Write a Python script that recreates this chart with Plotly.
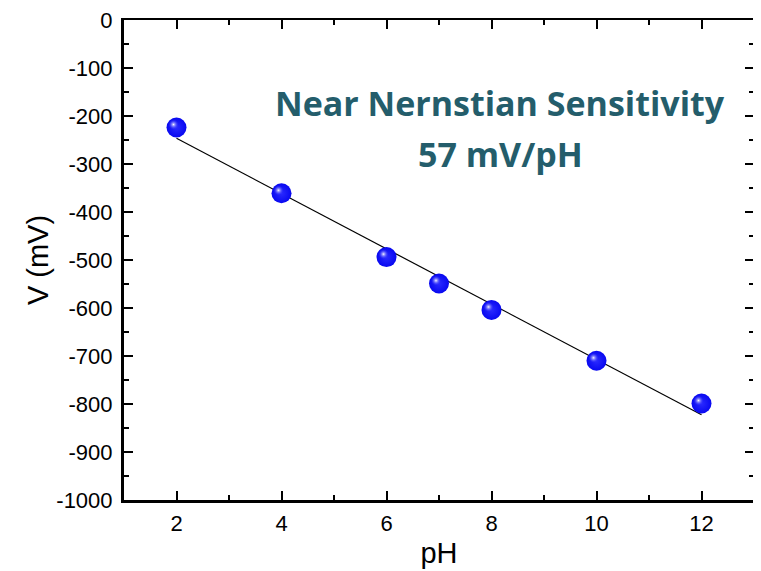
import numpy as np
import plotly.graph_objects as go

# data
ph = [2, 4, 6, 7, 8, 10, 12]
voltage = [-224, -361, -494, -549, -604, -710, -799]
x_ticks = [2, 4, 6, 8, 10, 12]
y_ticks = list(range(0, -1001, -100))
y_ticklabels = [str(v) for v in y_ticks]
annotation_lines = ["Near Nernstian Sensitivity", "57 mV/pH"]

slope, intercept = np.polyfit(ph, voltage, 1)
fit_x = [ph[0], ph[-1]]
fit_y = [slope * xv + intercept for xv in fit_x]

XR = [1, 13]
YR = [-1000, 0]
# page body has an 8 px margin; the figure is sized so it fits the 761x571 window
W, H = 753, 563
L, R, T, B = 116, 7, 12, 71
PW, PH = W - L - R, H - T - B
px_x = (XR[1] - XR[0]) / PW
px_y = (YR[1] - YR[0]) / PH

fig = go.Figure()
fig.add_trace(go.Scatter(x=fit_x, y=fit_y, mode="lines",
                         line=dict(color="black", width=1.2),
                         hoverinfo="skip", showlegend=False))
fig.add_trace(go.Scatter(x=ph, y=voltage, mode="markers",
                         marker=dict(size=20, color="#0808f0",
                                     line=dict(width=0),
                                     gradient=dict(type="radial", color="#2a2aff")),
                         showlegend=False))
fig.add_trace(go.Scatter(x=ph, y=voltage, mode="markers", xaxis="x2", yaxis="y2",
                         marker=dict(size=10, color="rgba(60,60,255,0)",
                                     line=dict(width=0),
                                     gradient=dict(type="radial", color="#f4f4ff")),
                         hoverinfo="skip", showlegend=False))
fig.add_trace(go.Scatter(x=ph, y=voltage, mode="markers", xaxis="x3", yaxis="y3",
                         marker=dict(size=1, opacity=0),
                         hoverinfo="skip", showlegend=False))

font_main = "Liberation Sans, Arial, sans-serif"
tickfont = dict(family=font_main, size=22, color="black")

fig.update_layout(
    width=W, height=H,
    margin=dict(l=L, r=R, t=T, b=B, autoexpand=False),
    paper_bgcolor="white", plot_bgcolor="white",
    showlegend=False,
    xaxis=dict(range=XR, tickvals=x_ticks, ticks="inside", ticklen=9, tickwidth=2,
               tickcolor="black", showline=True, linewidth=3, linecolor="black",
               showgrid=False, zeroline=False, tickfont=tickfont, automargin=False,
               ticklabelstandoff=2, ticklabeloverflow="allow",
               minor=dict(dtick=1, ticks="inside", ticklen=5, tickwidth=2, tickcolor="black"),
               title=dict(text="pH", font=dict(family=font_main, size=29, color="black"),
                          standoff=8)),
    yaxis=dict(range=YR, tickvals=y_ticks, ticktext=y_ticklabels, ticks="inside",
               ticklen=9, tickwidth=2, tickcolor="black", showline=True, linewidth=3,
               linecolor="black", showgrid=False, zeroline=False, tickfont=tickfont,
               automargin=False, ticklabelstandoff=4, ticklabeloverflow="allow",
               minor=dict(dtick=50, ticks="inside", ticklen=5, tickwidth=2, tickcolor="black"),
               title=dict(text="V (mV)", font=dict(family=font_main, size=29, color="black"),
                          standoff=0)),
    xaxis2=dict(overlaying="x", range=[XR[0] + 3 * px_x, XR[1] + 3 * px_x], visible=False),
    yaxis2=dict(overlaying="y", range=[YR[0] - 3 * px_y, YR[1] - 3 * px_y], visible=False),
    xaxis3=dict(overlaying="x", side="top", range=XR, tickvals=x_ticks, ticks="inside",
                ticklen=9, tickwidth=2, tickcolor="black", showline=True, linewidth=2,
                linecolor="black", showgrid=False, zeroline=False, showticklabels=False,
                automargin=False,
                minor=dict(dtick=1, ticks="inside", ticklen=5, tickwidth=2, tickcolor="black")),
    yaxis3=dict(overlaying="y", side="right", range=YR, tickvals=y_ticks, ticks="inside",
                ticklen=9, tickwidth=2, tickcolor="black", showline=True, linewidth=2,
                linecolor="black", showgrid=False, zeroline=False, showticklabels=False,
                automargin=False,
                minor=dict(dtick=50, ticks="inside", ticklen=5, tickwidth=2, tickcolor="black")),
)

ann_font = dict(family="Open Sans, Noto Sans, sans-serif", size=34, color="#245D6B")
for text, (cx, cy) in zip(annotation_lines, [(500 - 8, 103 - 8), (500 - 8, 154 - 8)]):
    fig.add_annotation(x=(cx - L) / PW, y=(H - cy - B) / PH, xref="paper", yref="paper",
                       text="<b>%s</b>" % text, showarrow=False, font=ann_font,
                       xanchor="center", yanchor="middle")

fig.write_html("out.html")
